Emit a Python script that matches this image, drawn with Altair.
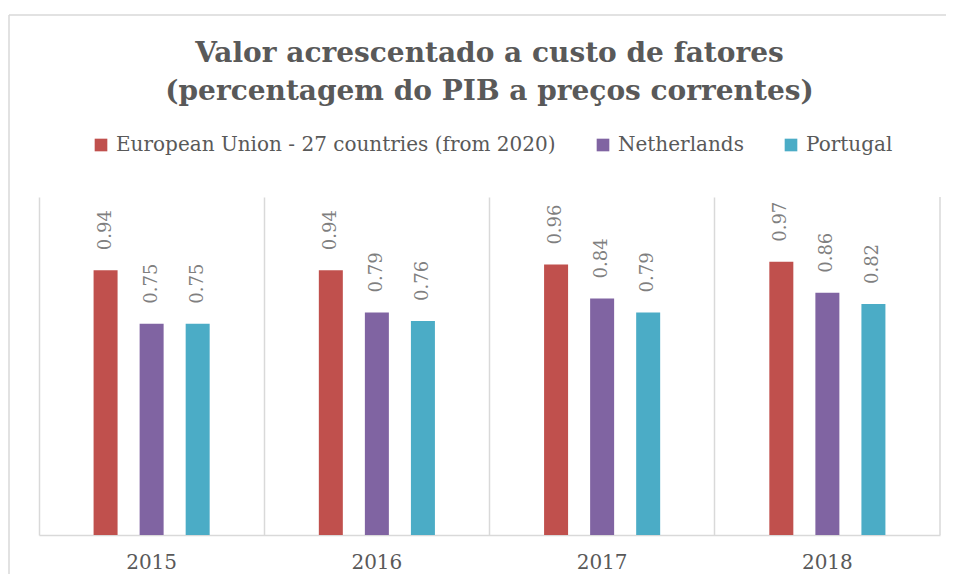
import altair as alt
import pandas as pd

years = ["2015", "2016", "2017", "2018"]
series = ["European Union - 27 countries (from 2020)", "Netherlands", "Portugal"]
eu_values = [0.94, 0.94, 0.96, 0.97]
nl_values = [0.75, 0.79, 0.84, 0.86]
pt_values = [0.75, 0.76, 0.79, 0.82]
colors = ["#c0504d", "#8064a2", "#4bacc6"]
title_lines = ["Valor acrescentado a custo de fatores",
               "(percentagem do PIB a preços correntes)"]

rows = []
for s, vals in zip(series, [eu_values, nl_values, pt_values]):
    for yr, v in zip(years, vals):
        rows.append({"Ano": yr, "Serie": s, "Valor": v})
df = pd.DataFrame(rows)

W, H = 901, 338
FONT = "DejaVu Serif"
GRID = "#d9d9d9"

x_enc = alt.X(
    "Ano:N", sort=years,
    scale=alt.Scale(paddingInner=0, paddingOuter=0),
    axis=alt.Axis(title=None, labelAngle=0, ticks=False, domainColor=GRID,
                  domainWidth=1.5, grid=True, gridColor=GRID, gridWidth=1.5,
                  bandPosition=0, labelFont=FONT, labelFontSize=20,
                  labelColor="#595959", labelPadding=17),
)
xoff = alt.XOffset("Serie:N", sort=series,
                   scale=alt.Scale(paddingInner=0, paddingOuter=0.946))
y_enc = alt.Y("Valor:Q", scale=alt.Scale(domain=[0, 1.2], nice=False), axis=None)

bars = alt.Chart(df).mark_bar(width=24).encode(
    x=x_enc, xOffset=xoff, y=y_enc,
    color=alt.Color(
        "Serie:N", sort=series,
        scale=alt.Scale(domain=series, range=colors),
        legend=alt.Legend(title=None, orient="none", legendX=52, legendY=-62,
                          direction="horizontal", symbolType="square",
                          symbolSize=160, symbolStrokeWidth=0, labelFont=FONT,
                          labelFontSize=20, labelColor="#595959", labelLimit=0,
                          columnPadding=37, labelOffset=5, padding=0),
    ),
)

labels = alt.Chart(df).mark_text(
    angle=270, align="left", baseline="middle", dx=20,
    font=FONT, fontSize=18, color="#7f7f7f",
).encode(x=x_enc, xOffset=xoff, y=y_enc, text=alt.Text("Valor:Q", format=".2f"))

one = pd.DataFrame({"k": [0]})
right_edge = alt.Chart(one).mark_rule(color=GRID, strokeWidth=1.5).encode(
    x=alt.value(W), y=alt.value(0), y2=alt.value(H))
border_left = alt.Chart(one).mark_rule(color=GRID, strokeWidth=1.5).encode(
    x=alt.value(-30), y=alt.value(-182), y2=alt.value(H + 60))
border_top = alt.Chart(one).mark_rule(color=GRID, strokeWidth=1.5).encode(
    x=alt.value(-30), x2=alt.value(W + 20), y=alt.value(-182))

chart = alt.layer(bars, labels, right_edge, border_left, border_top).properties(
    width=W, height=H,
    autosize=alt.AutoSizeParams(type="none"),
    padding={"left": 31, "top": 189, "right": 6, "bottom": 39},
    title=alt.Title(title_lines, font=FONT, fontSize=28, fontWeight="bold",
                    color="#595959", anchor="middle", frame="group",
                    offset=-92, lineHeight=38),
).configure_view(stroke=None)

chart.save("out.html", embed_options={"renderer": "svg", "actions": False})
